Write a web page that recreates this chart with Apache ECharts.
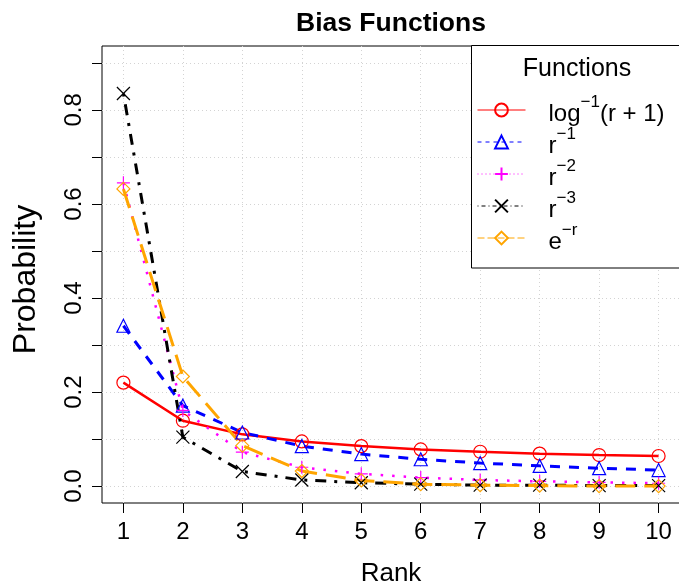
<!DOCTYPE html>
<html>
<head>
<meta charset="utf-8">
<script src="https://cdn.jsdelivr.net/npm/echarts@6/dist/echarts.min.js"></script>
<style>html,body{margin:0;padding:0;background:#fff;}#c{width:679px;height:583px;}</style>
</head>
<body>
<div id="c"></div>
<script>
// ---- data ----
var ranks = [1, 2, 3, 4, 5, 6, 7, 8, 9, 10];
var logInv = [0.220, 0.139, 0.110, 0.095, 0.085, 0.078, 0.073, 0.069, 0.066, 0.064];
var rInv1 = [0.341, 0.171, 0.114, 0.085, 0.068, 0.057, 0.049, 0.043, 0.038, 0.034];
var rInv2 = [0.645, 0.161, 0.072, 0.040, 0.026, 0.018, 0.013, 0.010, 0.008, 0.006];
var rInv3 = [0.835, 0.104, 0.031, 0.013, 0.007, 0.004, 0.002, 0.002, 0.001, 0.001];
var expNeg = [0.632, 0.233, 0.086, 0.032, 0.012, 0.004, 0.002, 0.001, 0.000, 0.000];
var xTicks = [1, 2, 3, 4, 5, 6, 7, 8, 9, 10];
var yTicks = [0, 0.1, 0.2, 0.3, 0.4, 0.5, 0.6, 0.7, 0.8, 0.9];
var yLabels = [0, 0.2, 0.4, 0.6, 0.8];
var seriesNames = ['logInv', 'rInv1', 'rInv2', 'rInv3', 'expNeg'];
var legendLabels = ['{m|log}{s|−1}{m|(r + 1)}', '{m|r}{s|−1}', '{m|r}{s|−2}', '{m|r}{s|−3}', '{m|e}{s|−r}'];

var FONT = 'Liberation Sans, Arial, Helvetica, sans-serif';
function pairs(v) { return ranks.map(function (r, i) { return [r, v[i]]; }); }

var styles = [
  { color: '#FF0000', type: 'solid', legendType: 'solid', width: 2.5, symbol: 'circle' },
  { color: '#0000FF', type: [10, 9], legendType: [4, 4], width: 3, symbol: 'triangle' },
  { color: '#FF00FF', type: [2.5, 9], legendType: [1, 3], width: 2.5, symbol: 'path://M0,5L10,5M5,0L5,10' },
  { color: '#000000', type: [3, 8, 11, 8], legendType: [1, 3, 4, 3], width: 3, symbol: 'path://M0,0L10,10M0,10L10,0' },
  { color: '#FFA500', type: [20, 9], legendType: [7, 3], width: 3, symbol: 'diamond' }
];
var datasets = [logInv, rInv1, rInv2, rInv3, expNeg];

var gridLines = xTicks.map(function (v) { return { xAxis: v }; })
  .concat(yTicks.map(function (v) { return { yAxis: v }; }));

var series = datasets.map(function (d, i) {
  var st = styles[i];
  var s = {
    name: seriesNames[i],
    type: 'line',
    data: pairs(d),
    symbol: st.symbol,
    symbolSize: 13,
    showSymbol: true,
    z: 3,
    lineStyle: { color: st.color, width: st.width, type: st.type, cap: 'butt' },
    itemStyle: { color: 'rgba(0,0,0,0)', borderColor: st.color, borderWidth: 1.2 },
    emphasis: { disabled: true }
  };
  if (i === 0) {
    s.markLine = {
      silent: true, symbol: ['none', 'none'], label: { show: false },
      lineStyle: { color: '#D3D3D3', type: [1, 3], width: 1 },
      emphasis: { disabled: true },
      data: gridLines, z: 1
    };
  }
  return s;
});

var chart = echarts.init(document.getElementById('c'), null, { renderer: 'canvas' });
chart.setOption({
  animation: false,
  backgroundColor: '#fff',
  textStyle: { fontFamily: FONT },
  title: {
    text: 'Bias Functions', left: 296, top: 10, padding: 0,
    textStyle: { fontFamily: FONT, fontWeight: 'bold', fontSize: 26.5, color: '#000' }
  },
  grid: { left: 102, top: 46, width: 578, height: 457, show: true, borderColor: '#000', borderWidth: 1,
    backgroundColor: 'transparent', containLabel: false, outerBoundsMode: 'none' },
  xAxis: {
    type: 'value', min: 0.64, max: 10.36,
    name: 'Rank', nameLocation: 'middle', nameGap: 58,
    nameTextStyle: { fontFamily: FONT, fontSize: 26, color: '#000' },
    axisLine: { show: false, onZero: false },
    splitLine: { show: false },
    axisTick: { show: true, customValues: xTicks, length: 10, lineStyle: { color: '#000', width: 1 } },
    axisLabel: { customValues: xTicks, fontSize: 24, color: '#000', margin: 17, fontFamily: FONT }
  },
  yAxis: {
    type: 'value', min: -0.036, max: 0.936,
    name: 'Probability', nameLocation: 'middle', nameGap: 60,
    nameTextStyle: { fontFamily: FONT, fontSize: 32, color: '#000', padding: [0, 10, 0, 0] },
    axisLine: { show: false, onZero: false },
    splitLine: { show: false },
    axisTick: { show: true, customValues: yTicks, length: 10, lineStyle: { color: '#000', width: 1 } },
    axisLabel: { customValues: yLabels, rotate: 90, fontSize: 24, color: '#000', margin: 16, fontFamily: FONT,
      formatter: function (v) { return v.toFixed(1); } }
  },
  legend: {
    orient: 'vertical', left: 477, top: 94, padding: 0, z: 20,
    itemWidth: 48, itemHeight: 16, itemGap: 0,
    selectedMode: false,
    data: seriesNames.map(function (n, i) {
      return { name: n, lineStyle: { width: 1, type: styles[i].legendType, color: styles[i].color } };
    }),
    formatter: function (name) { return legendLabels[seriesNames.indexOf(name)]; },
    textStyle: {
      fontFamily: FONT, fontSize: 24, color: '#000', padding: [0, 0, 0, 18],
      rich: {
        m: { fontFamily: FONT, fontSize: 24, color: '#000', lineHeight: 32, verticalAlign: 'bottom' },
        s: { fontFamily: FONT, fontSize: 17, color: '#000', verticalAlign: 'top' }
      }
    }
  },
  graphic: [
    { type: 'rect', z: 15, silent: true, shape: { x: 471.5, y: 45.5, width: 230, height: 222.5 },
      style: { fill: '#fff', stroke: '#000', lineWidth: 1 } },
    { type: 'text', z: 16, silent: true, x: 577, y: 69,
      style: { text: 'Functions', fontFamily: FONT, fontSize: 25, fill: '#000', align: 'center', verticalAlign: 'middle' } }
  ],
  series: series
});
</script>
</body>
</html>
